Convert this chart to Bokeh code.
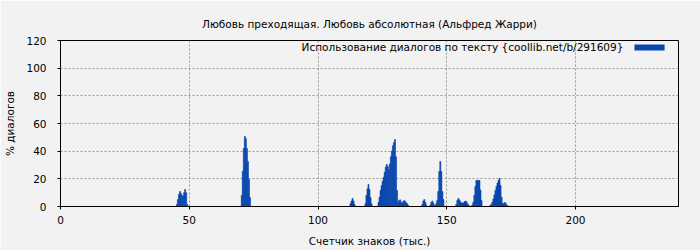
from bokeh.plotting import figure
from bokeh.models import Range1d, Label, BoxAnnotation, FixedTicker
from bokeh.embed import file_html
from bokeh.resources import INLINE

# ---- data (thousands of characters, % dialogue), bins 0.4k wide ----
bin_width = 0.4
cluster_starts = [45.0, 70.2, 112.4, 118.2, 123.3, 140.3, 143.4, 145.7, 153.5, 159.7, 166.7]
cluster_values = [
    [1.5, 5, 8.7, 10.8, 9.4, 8, 7.2, 10, 12.3, 10, 1.5],
    [8, 25.5, 42, 50.6, 49, 42, 32.5, 19.5, 6.5],
    [2, 4, 5.8, 4, 1.5],
    [2, 8, 12.8, 15.9, 12.3, 6.5, 2],
    [3, 6.7, 11.6, 15.2, 18.3, 21.2, 24.8, 28.4, 30.4, 29, 26.5, 30.8, 36, 40, 44,
     46.3, 48.4, 36, 11.6, 3, 4.3, 4.8, 3, 2.6, 3.6, 4.3, 3.6, 2.6, 1.9, 0.7],
    [1.5, 4, 5, 3, 1],
    [1, 3, 4, 2.5, 1],
    [2, 4.3, 10.8, 25.3, 32.5, 25.3, 10.8, 5],
    [1.5, 4.3, 5.8, 4.8, 3.4, 2.6, 2.6, 2.6, 3.4, 3.9, 3.4, 1.9, 1],
    [1, 3, 8, 14.5, 18.8, 18.8, 18.8, 18.8, 12, 4.3],
    [0.7, 1.5, 3, 5.5, 8.4, 11.6, 14.5, 16.9, 18.8, 20.2, 15.2, 6.7, 2.4, 1.9, 2.9, 2.4, 1, 0.5],
]
x_ticks = [0, 50, 100, 150, 200]
y_ticks = [0, 20, 40, 60, 80, 100, 120]

title_text = "Любовь преходящая. Любовь абсолютная (Альфред Жарри)"
series_name = "Использование диалогов по тексту {coollib.net/b/291609}"
x_label = "Счетчик знаков (тыс.)"
y_label = "% диалогов"

xs, ys = [], []
for start, vals in zip(cluster_starts, cluster_values):
    for i, v in enumerate(vals):
        xs.append(start + i * bin_width + bin_width / 2)
        ys.append(v)

BG = "#f2f2f2"
BAR = "#0645ad"
FONT = "DejaVu Sans"
FS = "10.5px"

p = figure(width=700, height=250, output_backend="svg", toolbar_location=None,
           x_range=Range1d(0, 240), y_range=Range1d(0, 120),
           min_border_left=60, min_border_right=22, min_border_top=40, min_border_bottom=44)
p.background_fill_color = BG
p.border_fill_color = BG
p.outline_line_color = "black"
p.outline_line_width = 1

p.title.text = title_text
p.title.align = "center"
p.title.text_font = FONT
p.title.text_font_size = FS
p.title.text_font_style = "normal"
p.title.text_color = "black"
p.title.standoff = 21

p.vbar(x=xs, top=ys, width=bin_width, fill_color=BAR, line_color=BAR, line_width=0.6)

for ax in (p.xaxis[0], p.yaxis[0]):
    ax.axis_line_color = "black"
    ax.major_tick_line_color = "black"
    ax.major_tick_out = 3
    ax.major_tick_in = 0
    ax.minor_tick_line_color = None
    ax.major_label_text_font = FONT
    ax.major_label_text_font_size = FS
    ax.major_label_text_color = "black"
    ax.axis_label_text_font = FONT
    ax.axis_label_text_font_size = FS
    ax.axis_label_text_font_style = "normal"
    ax.axis_label_text_color = "black"

p.xaxis.ticker = FixedTicker(ticks=x_ticks)
p.yaxis.ticker = FixedTicker(ticks=y_ticks)
p.xaxis.axis_label = x_label
p.yaxis.axis_label = y_label
p.xaxis.major_label_standoff = 6
p.xaxis.axis_label_standoff = 8
p.yaxis.major_label_standoff = 11
p.yaxis.axis_label_standoff = 7

p.xgrid.grid_line_color = "#999999"
p.ygrid.grid_line_color = "#999999"
p.xgrid.grid_line_dash = "2 2"
p.ygrid.grid_line_dash = "2 2"

# legend: text then swatch, top-right
p.add_layout(Label(x=218.6, y=115, text=series_name, text_align="right",
                   text_baseline="middle", text_font=FONT, text_font_size=FS,
                   text_color="black"))
p.add_layout(BoxAnnotation(left=222.9, right=234.6, bottom=112.8, top=117.1,
                           fill_color=BAR, fill_alpha=1, line_color=None))

open("out.html", "w").write(file_html(p, INLINE))
